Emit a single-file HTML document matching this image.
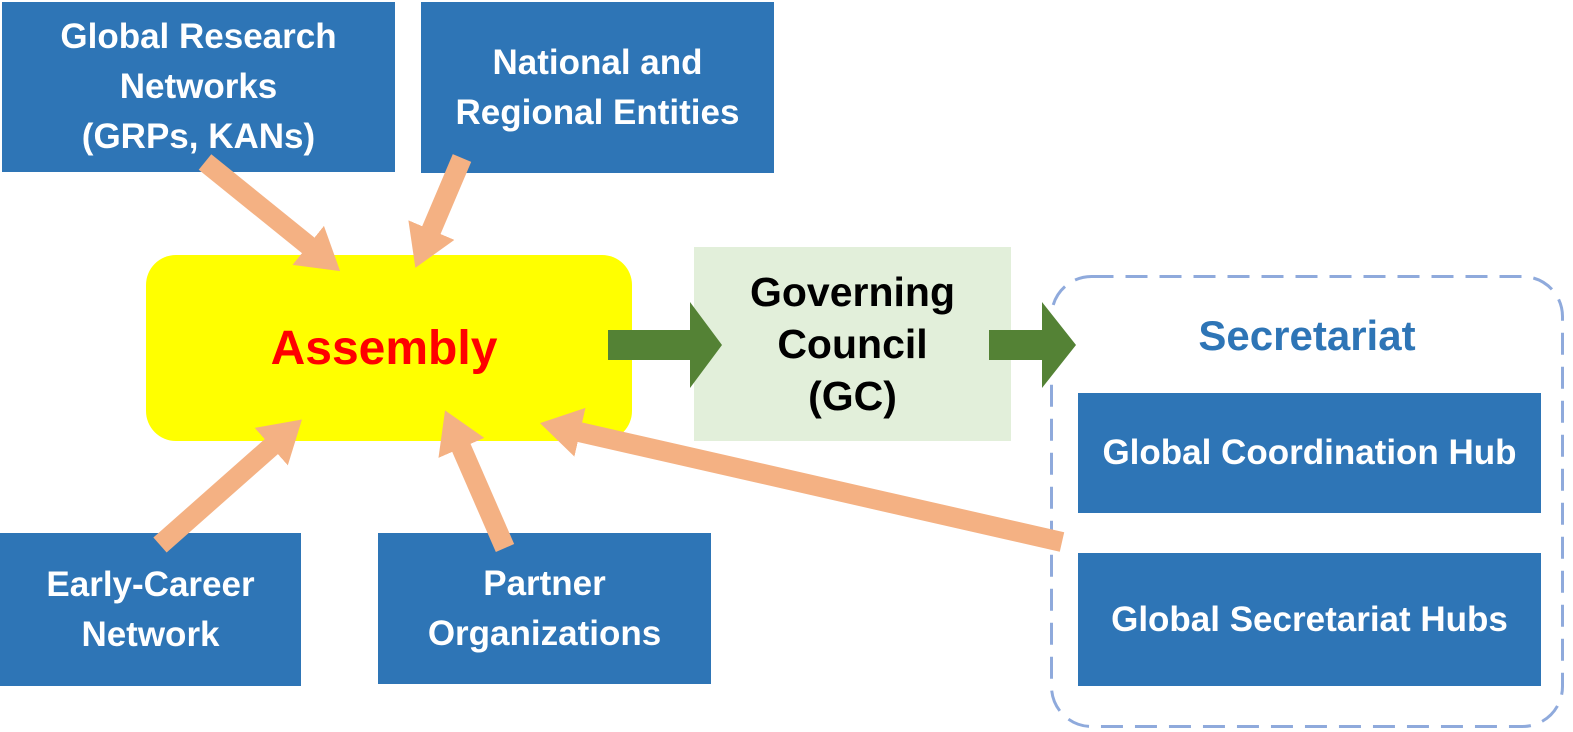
<!DOCTYPE html>
<html><head><meta charset="utf-8"><style>
html,body{margin:0;padding:0;background:#fff;}
body{width:1573px;height:732px;position:relative;overflow:hidden;font-family:"Liberation Sans",sans-serif;font-weight:bold;}
.b{position:absolute;background:#2E75B6;color:#fff;display:flex;align-items:center;justify-content:center;text-align:center;font-size:35px;line-height:50px;white-space:nowrap;}
svg{position:absolute;left:0;top:0;}
</style></head><body>
<div class="b" style="left:2px;top:2px;width:393px;height:170px;">Global Research<br>Networks<br>(GRPs, KANs)</div>
<div class="b" style="left:421px;top:2px;width:353px;height:171px;">National and<br>Regional Entities</div>
<div style="position:absolute;left:146px;top:255px;width:486px;height:186px;background:#FFFF00;border-radius:30px;display:flex;align-items:center;justify-content:center;color:#FF0000;font-size:48px;padding-right:10px;box-sizing:border-box;">Assembly</div>
<div style="position:absolute;left:694px;top:247px;width:317px;height:194px;background:#E2EFDA;display:flex;align-items:center;justify-content:center;text-align:center;color:#000;font-size:41px;line-height:52px;">Governing<br>Council<br>(GC)</div>
<div style="position:absolute;left:1050px;top:312px;width:514px;text-align:center;color:#2E75B6;font-size:42px;">Secretariat</div>
<div class="b" style="left:1078px;top:393px;width:463px;height:120px;">Global Coordination Hub</div>
<div class="b" style="left:1078px;top:553px;width:463px;height:133px;">Global Secretariat Hubs</div>
<div class="b" style="left:0px;top:533px;width:301px;height:153px;">Early-Career<br>Network</div>
<div class="b" style="left:378px;top:533px;width:333px;height:151px;">Partner<br>Organizations</div>
<svg width="1573" height="732">
<defs>
<marker id="s" markerUnits="userSpaceOnUse" markerWidth="42" markerHeight="52" refX="1" refY="26" orient="auto"><path d="M0,1 L41,26 L0,51 Z" fill="#F4B183"/></marker>
</defs>
<rect x="1051.5" y="276.5" width="511" height="450" rx="40" ry="40" fill="none" stroke="#8FAADC" stroke-width="3" stroke-dasharray="22 12"/>
<g stroke="#F4B183" stroke-width="20" marker-end="url(#s)">
<line x1="205" y1="162" x2="309" y2="246"/>
<line x1="462" y1="158" x2="431" y2="231"/>
<line x1="160" y1="545" x2="272" y2="446"/>
<line x1="505" y1="548" x2="461" y2="447"/>
<line x1="1062" y1="542" x2="579" y2="432"/>
</g>
<g fill="#548235">
<polygon points="608,330 690,330 690,302 722,345 690,388 690,360 608,360"/>
<polygon points="989,330 1042,330 1042,302 1076,345 1042,388 1042,360 989,360"/>
</g>
</svg>
</body></html>
